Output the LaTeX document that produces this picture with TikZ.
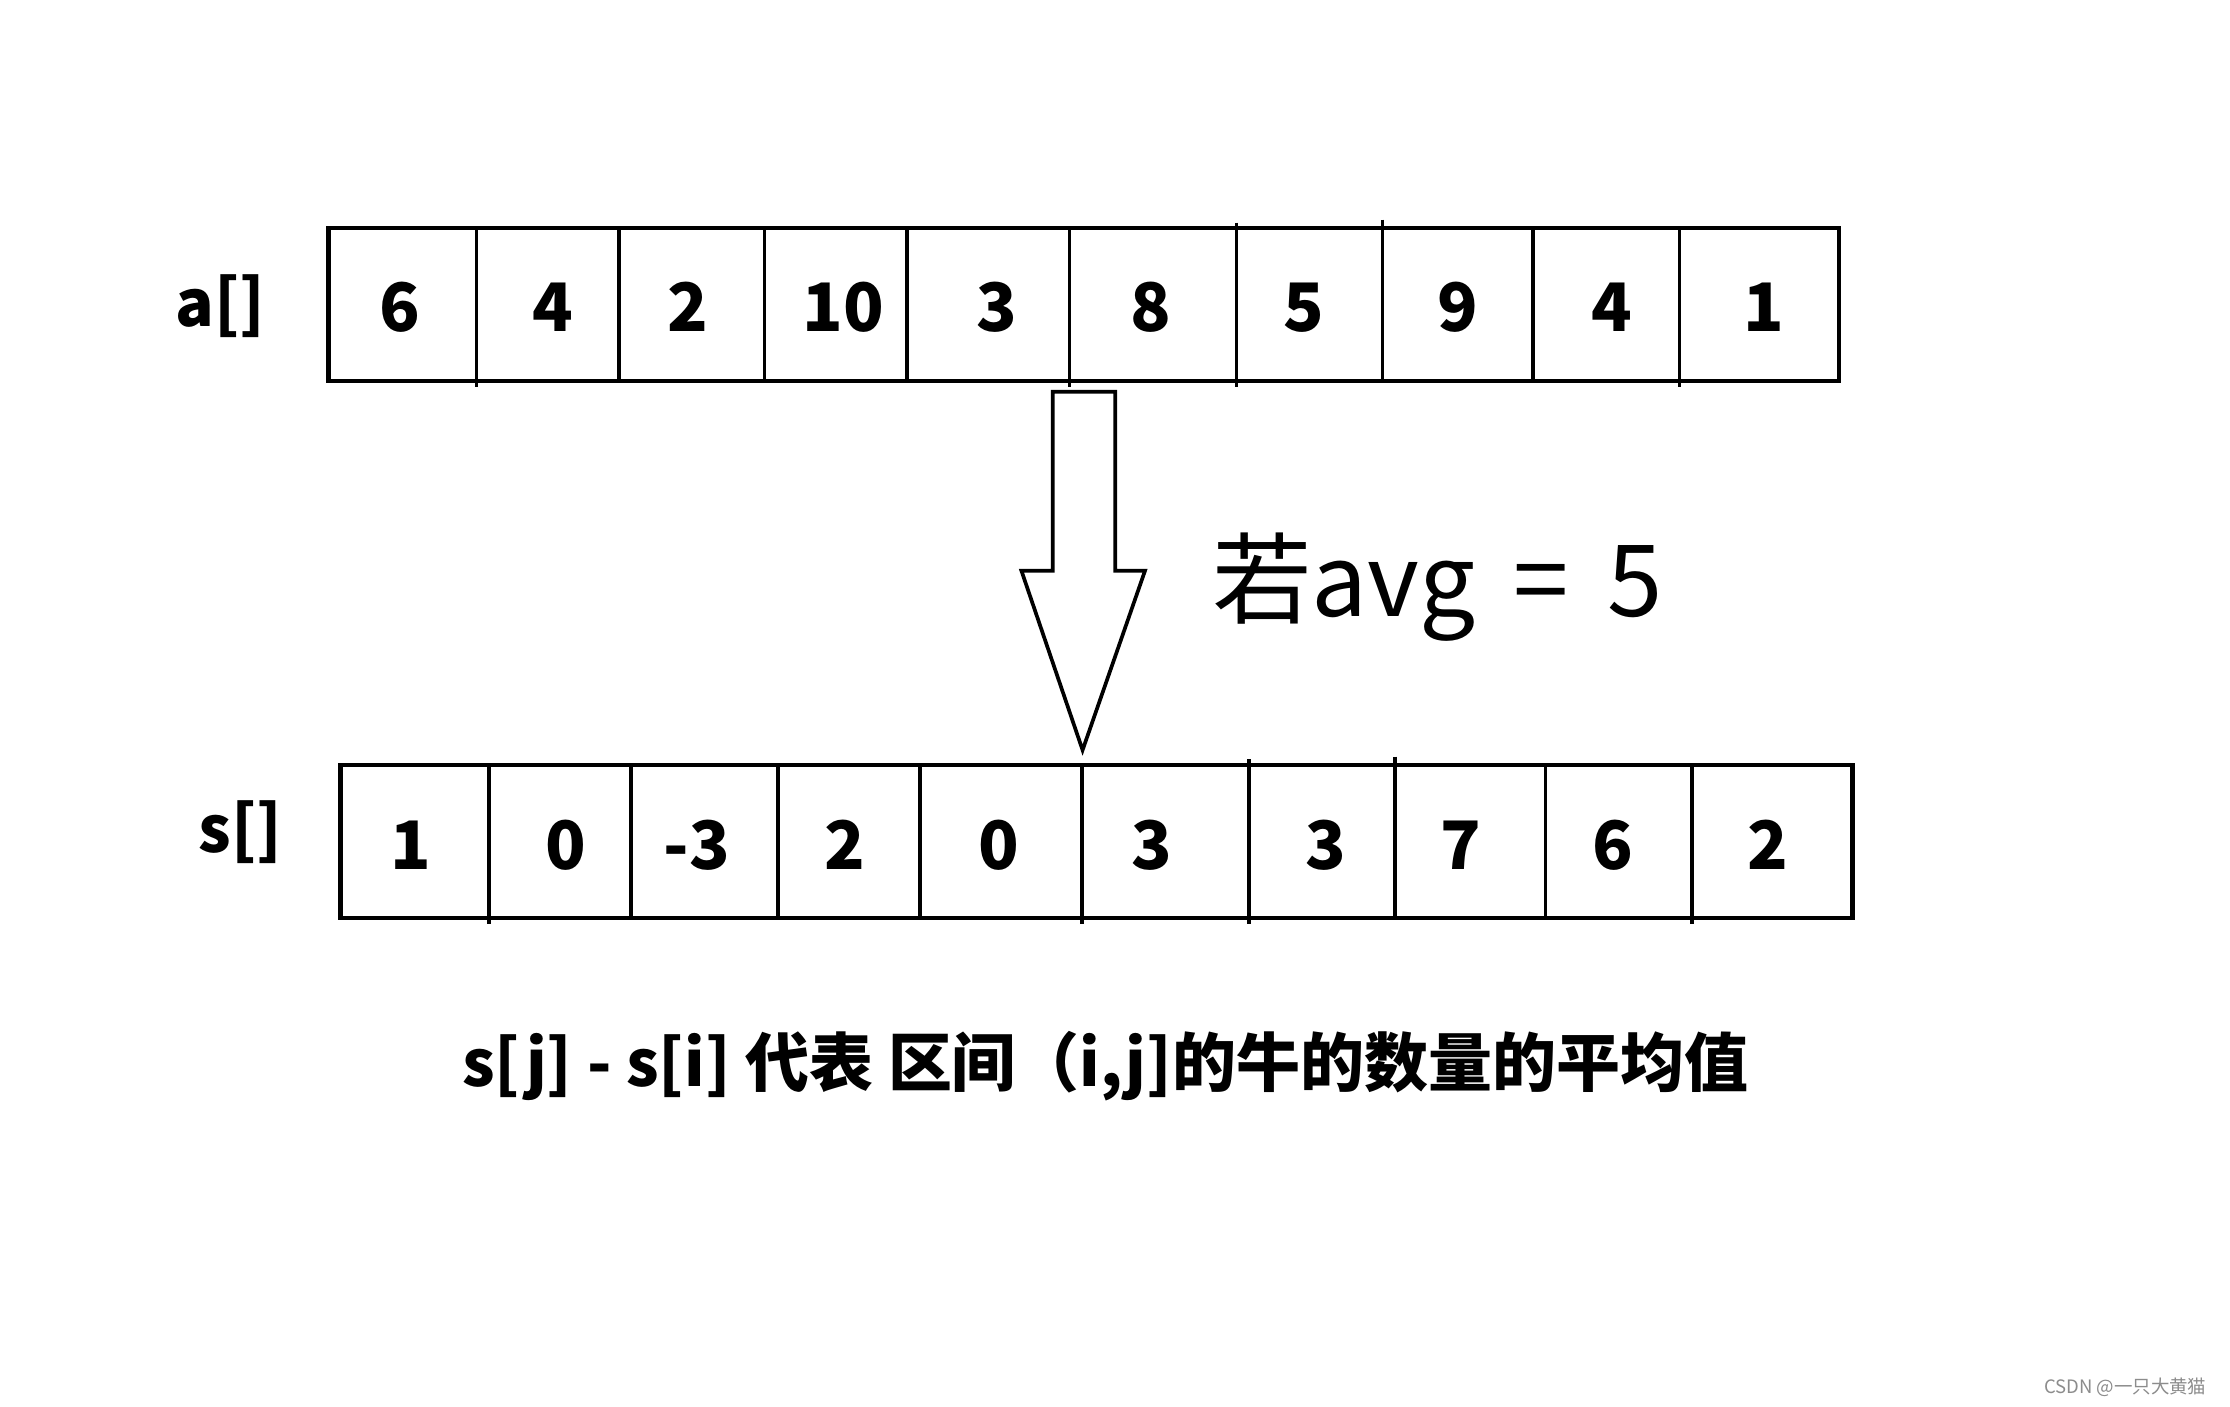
\documentclass[tikz,border=0pt]{standalone}
\usepackage{fontspec}
\setmainfont{Noto Sans CJK SC}
\begin{document}
\begin{tikzpicture}[x=1pt,y=-1pt,
  boxline/.style={line width=3pt},
  divline/.style={line width=2.6pt},
  num/.style={font=\fontsize{47}{50}\selectfont\bfseries, inner sep=0pt, anchor=base},
  lbl/.style={font=\fontsize{45}{48}\selectfont\bfseries, inner sep=0pt, anchor=base},
  arrowshape/.style={line width=2.6pt, line join=miter, fill=white}]
\useasboundingbox[fill=white] (0,0) rectangle (1568,989.3);

% ---- row a ----
\draw[boxline] (231,160.5) rectangle (1293,268);
\foreach \x/\u/\d in {335/0/4, 435/0/0, 537.5/0/0, 637.7/0/0, 752/0/4, 869.5/4/4, 972/6/0, 1078/0/0, 1181/0/4}
  \draw[divline] (\x,160.5-\u) -- (\x,268+\d);
\node[lbl] (alabel) at (155,229.7) {a[]};
\foreach \v/\x [count=\i] in {6/281, 4/389, 2/484, 10/593, 3/701, 8/809, 5/917, 9/1025, 4/1133, 1/1240}
  \node[num] (a\i) at (\x,232.8) {\v};

% ---- row s ----
\draw[boxline] (239.5,538) rectangle (1302.5,645.5);
\foreach \x/\u/\d in {343.8/0/4, 443.8/0/0, 547/0/0, 646.8/0/0, 761/0/4, 878.3/4/4, 980.8/6/0, 1086.6/0/0, 1189.6/0/4}
  \draw[divline] (\x,538-\u) -- (\x,645.5+\d);
\node[lbl] (slabel) at (169,599.6) {s[]};
\foreach \v/\x [count=\i] in {1/289, 0/398, -3/490, 2/594, 0/702, 3/810, 3/932, 7/1027, 6/1134, 2/1243}
  \node[num] (s\i) at (\x,611.7) {\v};

% ---- arrow ----
\coordinate (top) at (762,275.5);
\coordinate (tip) at (761.2,527.4);
\draw[arrowshape] (740.2,275.5) -- (784.2,275.5) -- (784.2,401.3) -- (805.1,401.3)
  -- (tip) -- (718.2,401.3) -- (740.2,401.3) -- cycle;
\node[font=\fontsize{70}{72}\selectfont, inner sep=0pt, anchor=base west] (avg) at (852,433.6) {若avg\hspace{27pt}=\hspace{27pt}5};

% ---- caption ----
\node[font=\fontsize{45}{48}\selectfont\bfseries, inner sep=0pt, anchor=base] (cap) at (777,764) {s[j] - s[i] 代表 区间（i,j]的牛的数量的平均值};

% ---- watermark ----
\node[font=\fontsize{13}{14}\selectfont, text=black!45, inner sep=0pt, anchor=base west] (wm) at (1437,979.5) {CSDN @一只大黄猫};
\end{tikzpicture}
\end{document}
